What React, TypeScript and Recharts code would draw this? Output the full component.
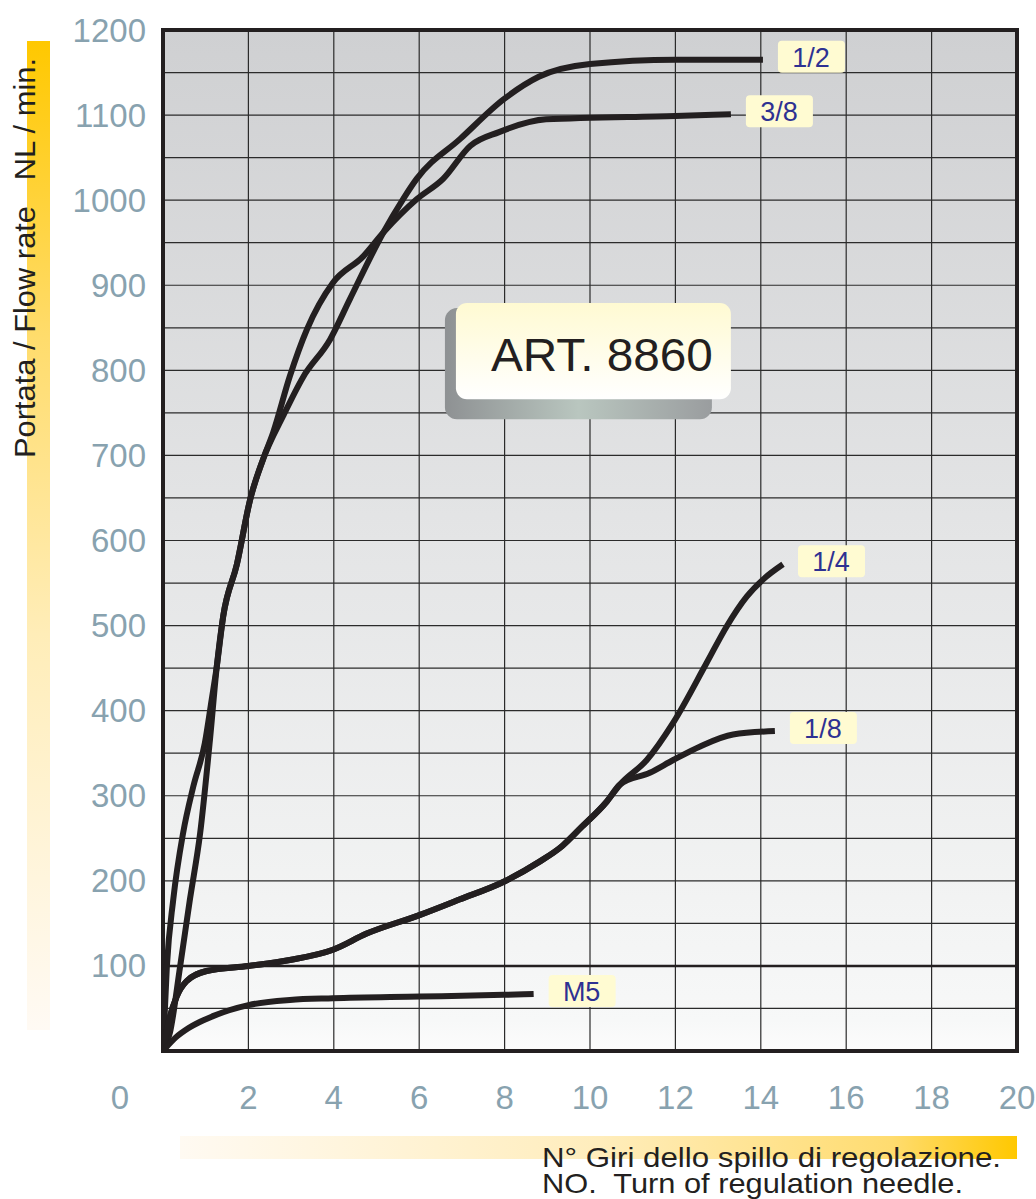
import React from 'react';
import {
  LineChart,
  Line,
  XAxis,
  YAxis,
  CartesianGrid,
  ReferenceLine,
  ReferenceArea,
} from 'recharts';

// Values: x = turns of the needle, y = NL/min

const xTicks = [0, 2, 4, 6, 8, 10, 12, 14, 16, 18, 20];
const yTicks = [
  0, 50, 100, 150, 200, 250, 300, 350, 400, 450, 500, 550, 600, 650, 700, 750, 800, 850, 900,
  950, 1000, 1050, 1100, 1150, 1200,
];

const half = [
  { x: 0, y: 0 }, { x: 0.16, y: 21 }, { x: 0.4, y: 99 }, { x: 0.63, y: 178 }, { x: 0.87, y: 256 },
  { x: 1.1, y: 366 }, { x: 1.26, y: 452 }, { x: 1.41, y: 511 }, { x: 1.73, y: 572 },
  { x: 2.04, y: 648 }, { x: 2.34, y: 695 }, { x: 2.81, y: 746 }, { x: 3.28, y: 792 },
  { x: 3.91, y: 836 }, { x: 4.38, y: 884 }, { x: 5.16, y: 962 }, { x: 5.62, y: 1001 },
  { x: 5.94, y: 1025 }, { x: 6.96, y: 1072 }, { x: 7.99, y: 1119 }, { x: 8.8, y: 1145 },
  { x: 10, y: 1160 }, { x: 12, y: 1165 }, { x: 14.05, y: 1165 },
];

const threeEighths = [
  { x: 0, y: 0 }, { x: 0.09, y: 99 }, { x: 0.24, y: 178 }, { x: 0.47, y: 256 }, { x: 0.71, y: 311 },
  { x: 0.98, y: 362 }, { x: 1.14, y: 413 }, { x: 1.26, y: 452 }, { x: 1.41, y: 511 },
  { x: 1.73, y: 572 }, { x: 2.04, y: 648 }, { x: 2.34, y: 695 }, { x: 2.58, y: 727 },
  { x: 2.97, y: 793 }, { x: 3.37, y: 848 }, { x: 3.98, y: 903 }, { x: 4.69, y: 934 },
  { x: 5.16, y: 962 }, { x: 5.94, y: 1001 }, { x: 6.56, y: 1025 }, { x: 7.2, y: 1064 },
  { x: 7.87, y: 1080 }, { x: 8.97, y: 1095 }, { x: 12, y: 1099 }, { x: 13.3, y: 1101 },
];

// 1/4 and 1/8 share the same path up to ~10.7 turns
const lowShared = [
  { x: 0, y: 0 }, { x: 0.16, y: 40 }, { x: 0.32, y: 64 }, { x: 0.55, y: 82 }, { x: 1.02, y: 94 },
  { x: 2.0, y: 100 }, { x: 2.97, y: 107 }, { x: 3.98, y: 119 }, { x: 4.77, y: 138 },
  { x: 6.02, y: 160 }, { x: 6.94, y: 178 }, { x: 7.98, y: 199 }, { x: 8.8, y: 222 },
  { x: 9.35, y: 241 }, { x: 9.8, y: 263 }, { x: 10.39, y: 293 }, { x: 10.7, y: 313 },
];

const quarter = [
  ...lowShared,
  { x: 11.33, y: 342 }, { x: 11.95, y: 386 }, { x: 12.73, y: 456 }, { x: 13.2, y: 499 },
  { x: 13.67, y: 534 }, { x: 14.05, y: 554 }, { x: 14.52, y: 572 },
];

const eighth = [
  ...lowShared,
  { x: 11.4, y: 327 }, { x: 11.95, y: 342 }, { x: 12.58, y: 358 }, { x: 13.35, y: 372 },
  { x: 14.33, y: 376 },
];

const m5 = [
  { x: 0, y: 0 }, { x: 0.3, y: 16 }, { x: 0.6, y: 27 }, { x: 1.17, y: 41 }, { x: 2.0, y: 54 },
  { x: 2.97, y: 60 }, { x: 3.98, y: 62 }, { x: 6.02, y: 64 }, { x: 7.98, y: 66 }, { x: 8.68, y: 67 },
];

const series = [
  { name: '1/2', data: half },
  { name: '3/8', data: threeEighths },
  { name: '1/4', data: quarter },
  { name: '1/8', data: eighth },
  { name: 'M5', data: m5 },
];

const font = '"Liberation Sans", Arial, Helvetica, sans-serif';
const tickColor = '#88a2af';
const ink = '#231f20';

const YTick = ({ x, y, payload }: any) => {
  const v = payload.value;
  if (v === 0 || v % 100 !== 0) return <g />;
  return (
    <text x={x} y={y} textAnchor="end" dominantBaseline="central" fontSize={33} fill={tickColor} fontFamily={font}>
      {v}
    </text>
  );
};

const XTick = ({ x, y, payload }: any) => (
  <text
    x={payload.value === 0 ? x - 43 : x}
    y={y}
    textAnchor="middle"
    dominantBaseline="central"
    fontSize={33}
    fill={tickColor}
    fontFamily={font}
  >
    {payload.value}
  </text>
);

const endLabel = (name: string, last: number) => (props: any) => {
  const { cx, cy, index } = props;
  if (index !== last) return <g key={`d${index}`} />;
  return (
    <g key={`d${index}`}>
      <rect x={cx + 15} y={cy - 19} width={67} height={32} rx={4} fill="#fffbd2" />
      <text
        x={cx + 48}
        y={cy - 2}
        textAnchor="middle"
        dominantBaseline="central"
        fontSize={27}
        fill="#2e3192"
        fontFamily={font}
      >
        {name}
      </text>
    </g>
  );
};

const ArtBox = ({ x, y, width, height }: any) => (
  <g>
    <rect x={x - 11} y={y + 5} width={width - 8} height={height + 15} rx={12} fill="url(#shadowGrad)" />
    <rect x={x} y={y} width={width} height={height} rx={11} fill="url(#boxGrad)" />
    <text x={x + 35} y={y + 68} fontSize={47} fill={ink} fontFamily={font} textLength={222} lengthAdjust="spacingAndGlyphs">
      ART. 8860
    </text>
  </g>
);

export default function App() {
  return (
    <div style={{ position: 'absolute', left: 0, top: 0, width: 1036, height: 1199, background: '#fff' }}>
      <svg width={1036} height={1199} style={{ position: 'absolute', left: 0, top: 0 }}>
        <defs>
          <linearGradient id="yBar" x1="0" y1="0" x2="0" y2="1">
            <stop offset="0" stopColor="#ffc800" />
            <stop offset="0.3" stopColor="#ffdc6c" />
            <stop offset="0.6" stopColor="#ffedb8" />
            <stop offset="1" stopColor="#fffaf4" />
          </linearGradient>
          <linearGradient id="xBar" x1="0" y1="0" x2="1" y2="0">
            <stop offset="0" stopColor="#fffaf2" />
            <stop offset="0.5" stopColor="#ffedbc" />
            <stop offset="0.85" stopColor="#ffdc70" />
            <stop offset="1" stopColor="#ffc800" />
          </linearGradient>
        </defs>
        <rect x={27} y={41} width={23} height={989} fill="url(#yBar)" />
        <rect x={180} y={1136} width={837} height={23} fill="url(#xBar)" />
      </svg>
      <div style={{ position: 'absolute', left: 0, top: 0 }}>
        <LineChart width={1036} height={1199} margin={{ top: 30, right: 19, left: 0, bottom: 0 }}>
          <defs>
            <linearGradient id="plotBg" x1="0" y1="0" x2="0" y2="1">
              <stop offset="0" stopColor="#cfd0d2" />
              <stop offset="0.5" stopColor="#e4e5e6" />
              <stop offset="0.85" stopColor="#f2f3f3" />
              <stop offset="0.97" stopColor="#f7f8f8" />
              <stop offset="1" stopColor="#fcfcfc" />
            </linearGradient>
            <linearGradient id="boxGrad" x1="0" y1="0" x2="0" y2="1">
              <stop offset="0" stopColor="#fffad2" />
              <stop offset="1" stopColor="#ffffff" />
            </linearGradient>
            <linearGradient id="shadowGrad" x1="0" y1="0" x2="1" y2="0">
              <stop offset="0" stopColor="#8e9193" />
              <stop offset="0.5" stopColor="#b9c6bf" />
              <stop offset="1" stopColor="#9a9d9f" />
            </linearGradient>
          </defs>
          <CartesianGrid fill="url(#plotBg)" stroke="#2b2b2b" strokeWidth={1.2} />
          <XAxis
            type="number"
            dataKey="x"
            domain={[0, 20]}
            ticks={xTicks}
            height={148}
            axisLine={false}
            tickLine={false}
            tickSize={0}
            tickMargin={46}
            tick={<XTick />}
            interval={0}
            allowDataOverflow
          />
          <YAxis
            type="number"
            dataKey="y"
            domain={[0, 1200]}
            ticks={yTicks}
            width={163}
            axisLine={false}
            tickLine={false}
            tickSize={0}
            tickMargin={17}
            tick={<YTick />}
            interval={0}
            allowDataOverflow
          />
          <ReferenceLine y={100} stroke={ink} strokeWidth={2.5} />
          <ReferenceArea x1={6.86} x2={13.3} y1={766} y2={879} shape={<ArtBox />} />
          {series.map((s) => (
            <Line
              key={s.name}
              data={s.data}
              dataKey="y"
              type="monotone"
              stroke={ink}
              strokeWidth={6}
              dot={endLabel(s.name, s.data.length - 1)}
              activeDot={false}
              isAnimationActive={false}
            />
          ))}
          <ReferenceArea
            x1={0}
            x2={20}
            y1={0}
            y2={1200}
            fill="none"
            stroke={ink}
            strokeWidth={4}
            ifOverflow="visible"
          />
        </LineChart>
      </div>
      <svg width={1036} height={1199} style={{ position: 'absolute', left: 0, top: 0, pointerEvents: 'none' }}>
        <text
          transform="translate(35,458) rotate(-90)"
          x={0}
          y={0}
          fontSize={29}
          fill={ink}
          fontFamily={font}
          textLength={400}
          lengthAdjust="spacingAndGlyphs"
          style={{ whiteSpace: 'pre' }}
        >
          {'Portata / Flow rate   NL / min.'}
        </text>
        <text
          x={542}
          y={1167}
          fontSize={28}
          fill={ink}
          fontFamily={font}
          textLength={459}
          lengthAdjust="spacingAndGlyphs"
        >
          N° Giri dello spillo di regolazione.
        </text>
        <text
          x={542}
          y={1193}
          fontSize={28}
          fill={ink}
          fontFamily={font}
          textLength={421}
          lengthAdjust="spacingAndGlyphs"
          style={{ whiteSpace: 'pre' }}
        >
          {'NO.  Turn of regulation needle.'}
        </text>
      </svg>
    </div>
  );
}
